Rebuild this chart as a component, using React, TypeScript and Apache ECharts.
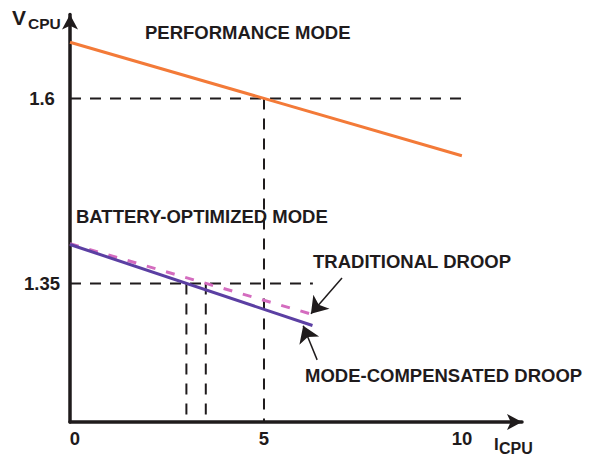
import React, { useEffect, useRef } from "react";
import * as echarts from "echarts";

// ---- data ----
const xTicks = [0, 5, 10];
const yTicks = [1.35, 1.6];
const performanceMode: [number, number][] = [[0, 1.676], [10.1, 1.5225]];
const traditionalDroop: [number, number][] = [[0, 1.4036], [6.25, 1.308]];
const modeCompensated: [number, number][] = [[0, 1.4026], [6.25, 1.293]];
const Y_MIN = 1.1626;
const Y_MAX = 1.7135;
const X_MIN = 0;
const X_MAX = 11.65;
const guide16: [number, number][] = [[0, 1.6], [10.18, 1.6]];
const guide5: [number, number][] = [[5, 1.6], [5, Y_MIN]];
const guide135: [number, number][] = [[0, 1.35], [6.26, 1.35]];
const guide3: [number, number][] = [[3, 1.35], [3, Y_MIN]];
const guide35: [number, number][] = [[3.5, 1.35], [3.5, Y_MIN]];
const arrowTraditional: [number, number][] = [[7.01, 1.3574], [6.21, 1.3088]];
const arrowModeComp: [number, number][] = [[6.37, 1.2466], [6.01, 1.2926]];

const INK = "#1f1b1c";
const FONT = "'Liberation Sans', Arial, sans-serif";

export default function App() {
  const ref = useRef<HTMLDivElement>(null);
  useEffect(() => {
    if (!ref.current) return;
    const chart = echarts.init(ref.current, null, { renderer: "svg" });
    const guide = (data: [number, number][]) => ({
      type: "line",
      data,
      symbol: "none",
      silent: true,
      lineStyle: { color: INK, width: 2, type: [11, 9] },
      z: 1,
    });
    const txt = (text: string, x: number, y: number, size = 18.5) => ({
      type: "text",
      left: x,
      top: y - size / 2,
      style: {
        text,
        fill: INK,
        font: `bold ${size}px ${FONT}`,
        textVerticalAlign: "top",
      },
    });
    chart.setOption({
      animation: false,
      backgroundColor: "#ffffff",
      grid: { left: 70, right: 75, top: 14.5, bottom: 38, containLabel: false },
      xAxis: {
        type: "value",
        min: X_MIN,
        max: X_MAX,
        splitLine: { show: false },
        axisTick: { show: false },
        axisLine: {
          show: true,
          onZero: false,
          lineStyle: { color: INK, width: 3.5 },
          symbol: ["none", "arrow"],
          symbolSize: [12, 15],
        },
        axisLabel: {
          customValues: xTicks,
          color: INK,
          fontSize: 18.5,
          fontWeight: "bold",
          fontFamily: FONT,
          margin: 7,
          formatter: (v: number) =>
            v === 0 ? "{z|0}" : v === 10 ? "{t|10}" : "{n|" + v + "}",
          rich: {
            z: { fontSize: 18.5, fontWeight: "bold", fontFamily: FONT, color: INK, padding: [0, 0, 0, 10] },
            t: { fontSize: 18.5, fontWeight: "bold", fontFamily: FONT, color: INK, padding: [0, 0, 0, 8] },
            n: { fontSize: 18.5, fontWeight: "bold", fontFamily: FONT, color: INK },
          },
        },
      },
      yAxis: {
        type: "value",
        min: Y_MIN,
        max: Y_MAX,
        splitLine: { show: false },
        axisTick: { show: false },
        axisLine: {
          show: true,
          onZero: false,
          lineStyle: { color: INK, width: 3.5 },
          symbol: ["none", "arrow"],
          symbolSize: [12, 15],
        },
        axisLabel: {
          customValues: yTicks,
          color: INK,
          fontSize: 18.5,
          fontWeight: "bold",
          fontFamily: FONT,
          align: "center",
          margin: 28,
          formatter: (v: number) => String(v),
        },
      },
      series: [
        guide(guide16),
        guide(guide5),
        guide(guide135),
        guide(guide3),
        guide(guide35),
        {
          type: "line",
          data: performanceMode,
          symbol: "none",
          lineStyle: { color: "#f37a38", width: 3 },
          z: 3,
        },
        {
          type: "line",
          data: traditionalDroop,
          symbol: "none",
          lineStyle: { color: "#d46cbf", width: 3, type: [9, 11] },
          z: 3,
        },
        {
          type: "line",
          data: modeCompensated,
          symbol: "none",
          lineStyle: { color: "#5b3fa3", width: 3 },
          z: 4,
        },
        {
          type: "lines",
          coordinateSystem: "cartesian2d",
          symbol: ["none", "arrow"],
          symbolSize: 16,
          lineStyle: { color: INK, width: 1.5, opacity: 1 },
          itemStyle: { color: INK },
          data: [{ coords: arrowTraditional }, { coords: arrowModeComp }],
          z: 5,
        },
      ],
      graphic: [
        txt("PERFORMANCE MODE", 145, 32.5),
        txt("BATTERY-OPTIMIZED MODE", 76, 216),
        txt("TRADITIONAL DROOP", 313, 261),
        txt("MODE-COMPENSATED DROOP", 305, 375),
        txt("V", 12, 17.5, 21),
        txt("CPU", 28, 23.5, 15.5),
        txt("I", 494, 444, 17),
        txt("CPU", 499, 448.5, 16),
      ],
    });
    return () => chart.dispose();
  }, []);
  return (
    <div
      ref={ref}
      style={{ position: "fixed", left: 0, top: 0, width: 597, height: 460 }}
    />
  );
}
